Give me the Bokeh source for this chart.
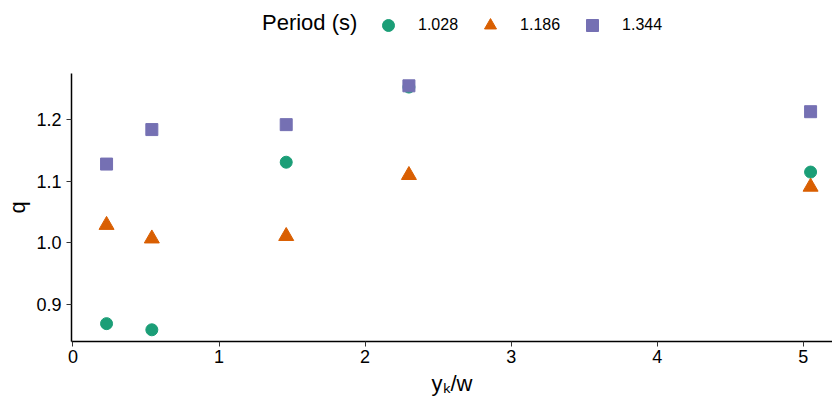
from bokeh.plotting import figure
from bokeh.layouts import column
from bokeh.models import Range1d, FixedTicker, Legend, LegendItem, PrintfTickFormatter
from bokeh.embed import file_html
from bokeh.resources import INLINE

# data
yk_w = [0.23, 0.54, 1.46, 2.30, 5.05]
q_1028 = [0.869, 0.859, 1.131, 1.253, 1.115]
q_1186 = [1.029, 1.007, 1.011, 1.110, 1.091]
q_1344 = [1.128, 1.184, 1.192, 1.255, 1.213]
periods = ["1.028", "1.186", "1.344"]
legend_title = "Period (s)"
x_ticks = [0, 1, 2, 3, 4, 5]
y_ticks = [0.9, 1.0, 1.1, 1.2]

colors = ["#1B9E77", "#D95F02", "#7570B3"]
markers = ["circle", "triangle", "square"]
sizes = [12, 15, 12]
FONT = "Liberation Sans"
series = [q_1028, q_1186, q_1344]

# ---------- main plot ----------
p = figure(width=832, height=357, output_backend="svg", toolbar_location=None,
           x_range=Range1d(-0.01, 5.2), y_range=Range1d(0.840, 1.275),
           min_border_left=71, min_border_right=0, min_border_top=28, min_border_bottom=61)
p.outline_line_color = None
p.xgrid.visible = False
p.ygrid.visible = False
p.background_fill_color = "white"
p.border_fill_color = "white"

for vals, c, m, s in zip(series, colors, markers, sizes):
    p.scatter(yk_w, vals, marker=m, size=s, color=c)

for ax in (p.xaxis[0], p.yaxis[0]):
    ax.axis_line_width = 1.5
    ax.axis_line_color = "black"
    ax.major_tick_line_color = "#333333"
    ax.major_tick_in = 0
    ax.major_tick_out = 5
    ax.minor_tick_line_color = None
    ax.major_label_text_font = FONT
    ax.major_label_text_font_size = "18px"
    ax.major_label_text_color = "black"
    ax.axis_label_text_font = FONT
    ax.axis_label_text_font_size = "22px"
    ax.axis_label_text_font_style = "normal"
    ax.axis_label_text_color = "black"

p.xaxis.ticker = FixedTicker(ticks=x_ticks)
p.yaxis.ticker = FixedTicker(ticks=y_ticks)
p.yaxis.formatter = PrintfTickFormatter(format="%.1f")
p.xaxis.axis_label = "yₖ/w"
p.yaxis.axis_label = "q"
p.xaxis.major_label_standoff = 3
p.yaxis.major_label_standoff = 5
p.yaxis.axis_label_standoff = 3
p.xaxis.axis_label_standoff = 5

# ---------- legend strip (its data sit outside its view; only the keys show) ----------
top = figure(width=832, height=45, output_backend="svg", toolbar_location=None,
             x_range=Range1d(0, 1), y_range=Range1d(10, 11),
             min_border_left=0, min_border_right=0, min_border_top=0, min_border_bottom=0)
top.axis.visible = False
top.xgrid.visible = False
top.ygrid.visible = False
top.outline_line_color = None
top.background_fill_color = "white"
top.border_fill_color = "white"

r_title = top.scatter(yk_w, q_1028, marker="circle", size=1, fill_alpha=0, line_alpha=0)
key_renderers = [top.scatter(yk_w, vals, marker=m, size=s, color=c)
                 for vals, c, m, s in zip(series, colors, markers, sizes)]

title_legend = Legend(items=[LegendItem(label=legend_title, renderers=[r_title])],
                      orientation="horizontal", location=(191, 7),
                      label_text_font=FONT, label_text_font_size="22px", label_text_color="black",
                      glyph_width=0, glyph_height=30, label_standoff=0, spacing=0,
                      padding=0, margin=0, border_line_color=None, background_fill_alpha=0)
top.add_layout(title_legend, "center")

legend = Legend(items=[LegendItem(label=lab, renderers=[r]) for lab, r in zip(periods, key_renderers)],
                orientation="horizontal", location=(302, 5),
                label_text_font=FONT, label_text_font_size="16px", label_text_color="black",
                glyph_width=30, glyph_height=30, label_standoff=15, spacing=17,
                padding=3, margin=0, border_line_color=None, background_fill_alpha=0)
top.add_layout(legend, "center")

layout = column(top, p, spacing=0)
open("out.html", "w").write(file_html(layout, INLINE))
